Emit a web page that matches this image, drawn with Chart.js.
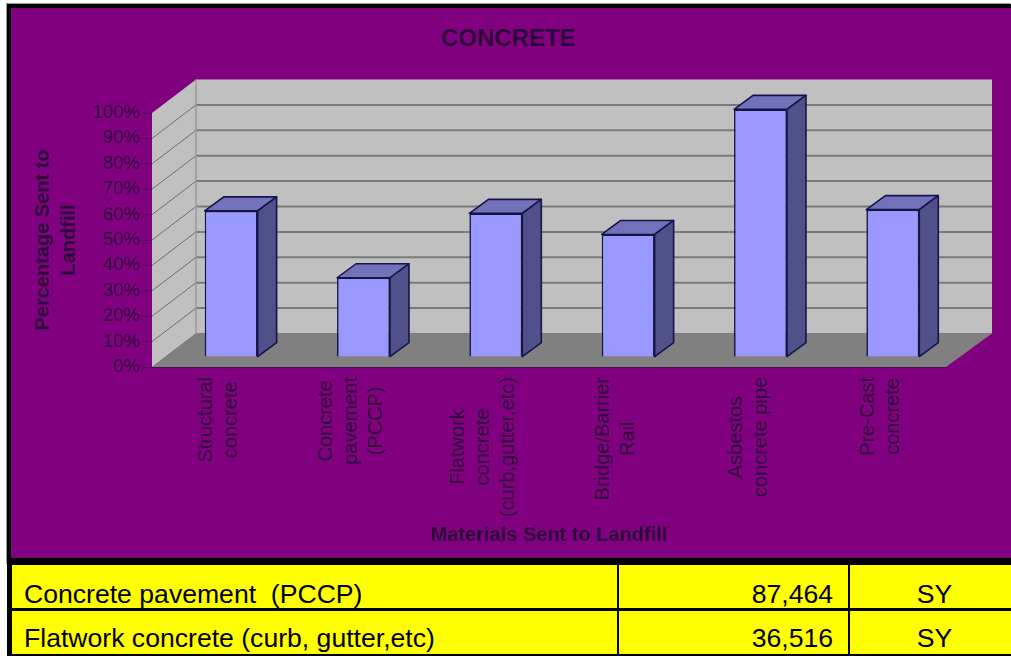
<!DOCTYPE html>
<html><head><meta charset="utf-8">
<script src="https://cdn.jsdelivr.net/npm/chart.js@4"></script>
<style>
html,body{margin:0;padding:0;background:#fff;width:1011px;height:656px;overflow:hidden;font-family:"Liberation Sans",Arial,sans-serif}
.abs{position:absolute}
#frame{left:7px;top:4px;width:1004px;height:561px;background:#000;box-shadow:-1px -1px 0 #999}
#wrap{left:11px;top:8px;width:1000px;height:550px;background:#800080;overflow:hidden}
#c{filter:blur(0.4px)}
#tbl{left:7px;top:564px;width:1004px;height:92px;background:#000}
.cell{position:absolute;background:#ff0;color:#000;font-size:26.6px;line-height:28px;box-sizing:border-box;white-space:pre}
</style></head><body>
<div class="abs" id="frame"></div>
<div class="abs" id="wrap"><canvas id="c" width="1000" height="550"></canvas></div>
<div class="abs" id="tbl"></div>
<script>
const categories = [["Structural","concrete"],["Concrete","pavement","(PCCP)"],["Flatwork","concrete","(curb,gutter,etc)"],["Bridge/Barrier","Rail"],["Asbestos","concrete pipe"],["Pre-Cast","concrete"]];
const percentSent = [59, 32, 58, 49.5, 100, 59.5];
const yTicks = [0,10,20,30,40,50,60,70,80,90,100];
const chartTitle = "CONCRETE";
const xTitle = "Materials Sent to Landfill";
const yTitle = ["Percentage Sent to","Landfill"];
const tableNames = ["Concrete pavement  (PCCP)","Flatwork concrete (curb, gutter,etc)"];
const tableAmounts = ["87,464","36,516"];
const tableUnits = ["SY","SY"];

const DEPTH_X = 44, DEPTH_Y = 33.5;
const BAR_SHIFT_X = 13, BAR_SHIFT_Y = 10, BAR_DX = 19, BAR_DY = 14, BAR_K = 0.975;
const INK = "#2c0638";
const FONT = '"Liberation Sans", Arial, sans-serif';

const wallsPlugin = {
  id:"walls",
  beforeDatasetsDraw(chart){
    const {ctx,chartArea:a,scales:{y}} = chart;
    const l=a.left,r=a.right,t=y.getPixelForValue(100),b=y.getPixelForValue(0);
    ctx.save();
    ctx.fillStyle="#c0c0c0";
    ctx.beginPath();ctx.moveTo(l,t);ctx.lineTo(l+DEPTH_X,t-DEPTH_Y);ctx.lineTo(l+DEPTH_X,b-DEPTH_Y);ctx.lineTo(l,b);ctx.closePath();ctx.fill();
    ctx.fillRect(l+DEPTH_X,t-DEPTH_Y,r-l+2,b-t);
    ctx.fillStyle="#808080";
    ctx.beginPath();ctx.moveTo(l,b);ctx.lineTo(l+DEPTH_X,b-DEPTH_Y);ctx.lineTo(r+DEPTH_X+2,b-DEPTH_Y);ctx.lineTo(r,b);ctx.closePath();ctx.fill();
    yTicks.forEach(v=>{
      if(v===0||v===100) return;
      const p=y.getPixelForValue(v);
      ctx.strokeStyle="#7a7a7a";ctx.lineWidth=2;
      ctx.beginPath();ctx.moveTo(l+DEPTH_X,p-DEPTH_Y);ctx.lineTo(r+DEPTH_X+2,p-DEPTH_Y);ctx.stroke();
      ctx.strokeStyle="#6e6e6e";ctx.lineWidth=1;
      ctx.beginPath();ctx.moveTo(l,p);ctx.lineTo(l+DEPTH_X,p-DEPTH_Y);ctx.stroke();
    });
    ctx.strokeStyle="#9a9a9a";ctx.lineWidth=1.5;
    ctx.beginPath();ctx.moveTo(l+DEPTH_X,t-DEPTH_Y);ctx.lineTo(l+DEPTH_X,b-DEPTH_Y);ctx.stroke();
    ctx.restore();
  },
  beforeDatasetDraw(chart){
    const {ctx,scales:{y}} = chart;
    const y0=y.getPixelForValue(0);
    ctx.save();
    ctx.transform(1,0,0,BAR_K,BAR_SHIFT_X,y0-BAR_SHIFT_Y-y0*BAR_K);
  },
  afterDatasetDraw(chart,args){
    const {ctx} = chart;
    args.meta.data.forEach(el=>{
      const p=el.getProps(["x","y","base","width"],true);
      const L=p.x-p.width/2,R=p.x+p.width/2,T=p.y,B=p.base;
      const dx=BAR_DX,dy=BAR_DY/BAR_K;
      ctx.lineWidth=1.6;ctx.strokeStyle="#14144a";ctx.lineJoin="round";
      ctx.fillStyle="#7272ba";
      ctx.beginPath();ctx.moveTo(L,T);ctx.lineTo(L+dx,T-dy);ctx.lineTo(R+dx,T-dy);ctx.lineTo(R,T);ctx.closePath();ctx.fill();ctx.stroke();
      ctx.fillStyle="#50508a";
      ctx.beginPath();ctx.moveTo(R,T);ctx.lineTo(R+dx,T-dy);ctx.lineTo(R+dx,B-dy);ctx.lineTo(R,B);ctx.closePath();ctx.fill();ctx.stroke();
    });
    ctx.restore();
  },
  afterDraw(chart){
    const {ctx,scales:{x}} = chart;
    const lh=25, top=369;
    ctx.save();ctx.font='20px '+FONT;ctx.fillStyle=INK;ctx.textAlign="center";ctx.textBaseline="middle";
    categories.forEach((lines,i)=>{
      const cx=x.getPixelForTick(i)+1;
      const longest=Math.max(...lines.map(s=>ctx.measureText(s).width));
      lines.forEach((s,j)=>{
        ctx.save();
        ctx.translate(cx+(j-(lines.length-1)/2)*lh, top+longest/2);
        ctx.rotate(-Math.PI/2);
        ctx.fillText(s,0,0);
        ctx.restore();
      });
    });
    ctx.restore();
  }
};

new Chart(document.getElementById("c"),{
  type:"bar",
  data:{labels:categories,datasets:[{label:"Percentage Sent to Landfill",data:percentSent,backgroundColor:"#9999ff",borderColor:"#14144a",borderWidth:1.6,categoryPercentage:0.8,barPercentage:0.5,clip:false}]},
  plugins:[wallsPlugin],
  options:{
    responsive:false,animation:false,
    layout:{padding:{left:0,right:5,top:0,bottom:0}},
    plugins:{
      legend:{display:false},tooltip:{enabled:false},
      title:{display:true,text:chartTitle,color:INK,font:{family:FONT,size:24,weight:"bold",lineHeight:1.2},padding:{top:17,bottom:59.2}}
    },
    scales:{
      x:{
        type:"category",offset:true,
        afterFit(s){s.height=191;},
        grid:{drawOnChartArea:false,drawTicks:true,tickLength:4,color:"#5a0a60",offset:true},
        border:{color:"#4a0a55",width:1},
        ticks:{display:false},
        title:{display:true,text:xTitle,color:INK,font:{family:FONT,size:20,weight:"bold",lineHeight:1.2},padding:{top:0,bottom:11}}
      },
      y:{
        min:0,max:100,position:"left",
        afterFit(s){s.width=141;},
        afterBuildTicks(s){s.ticks=yTicks.map(v=>({value:v}));},
        grid:{drawOnChartArea:false,drawTicks:true,tickLength:9,color:"#4a0a55"},
        border:{display:false},
        ticks:{padding:3,color:INK,font:{family:FONT,size:18.5},callback:v=>v+"%"},
        title:{display:true,text:yTitle,color:INK,font:{family:FONT,size:20,weight:"bold",lineHeight:26/20},padding:{top:19,bottom:0}}
      },
      yRight:{
        position:"right",min:0,max:100,
        afterFit(s){s.width=60;},
        grid:{display:false},border:{display:false},ticks:{display:false}
      }
    }
  }
});

const tbl=document.getElementById("tbl");
function cell(txt,left,width,top,height,style){
  const d=document.createElement("div");d.className="cell";
  d.style.cssText=`left:${left-7}px;width:${width}px;top:${top-564}px;height:${height}px;`+style;
  d.textContent=txt;tbl.appendChild(d);
}
const rowTops=[565,611],rowH=[43,43],textOff=[15,13];
tableNames.forEach((n,i)=>{
  const s=`padding-top:${textOff[i]}px;`;
  cell(n,12,605,rowTops[i],rowH[i],s+"padding-left:12px;");
  cell(tableAmounts[i],619,229,rowTops[i],rowH[i],s+"text-align:right;padding-right:15px;");
  cell(tableUnits[i],850,161,rowTops[i],rowH[i],s+"text-align:center;padding-left:8px;");
});
</script>
</body></html>
